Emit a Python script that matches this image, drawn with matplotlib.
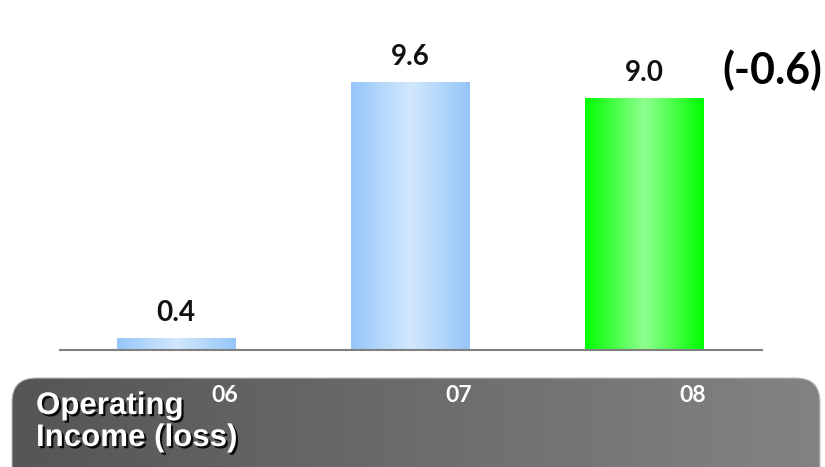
import matplotlib.pyplot as plt
import numpy as np
from matplotlib.colors import LinearSegmentedColormap
from matplotlib.patches import FancyBboxPatch
from matplotlib.transforms import ScaledTranslation
import matplotlib.patheffects as pe

years = ['06', '07', '08']
income = [0.4, 9.6, 9.0]
change_label = '(-0.6)'
row_title = ['Operating', 'Income (loss)']

blue_cmap = LinearSegmentedColormap.from_list(
    'blue_bar', ['#95c6f9', '#d2e8fd', '#95c6f9'])
green_cmap = LinearSegmentedColormap.from_list(
    'green_bar', ['#00ff00', '#90ff90', '#00ff00'])
bar_cmaps = [blue_cmap, blue_cmap, green_cmap]

W, H = 825, 467
fig = plt.figure(figsize=(W / 100, H / 100), dpi=100)

# background layer in pixel coordinates for the grey label strip
bg = fig.add_axes([0, 0, 1, 1], zorder=0)
bg.set_xlim(0, W)
bg.set_ylim(H, 0)
bg.axis('off')
strip = FancyBboxPatch((12, 378), 808, 130,
                       boxstyle='round,pad=0,rounding_size=24',
                       facecolor='none', edgecolor='#bdbdbd', linewidth=0.8)
bg.add_patch(strip)
grey = LinearSegmentedColormap.from_list('strip', ['#555555', '#838383'])
ramp = np.linspace(0, 1, 256).reshape(1, -1)
img = bg.imshow(ramp, cmap=grey, extent=(12, 820, 508, 378), aspect='auto')
img.set_clip_path(strip)
bg.set_xlim(0, W)
bg.set_ylim(H, 0)

shadow = [pe.withSimplePatchShadow(offset=(1.6, -1.6),
                                   shadow_rgbFace='black', alpha=0.9)]
for line, base in zip(row_title, [414, 446]):
    bg.text(36, base, line, color='white', fontsize=22.5, fontweight='bold',
            family='Liberation Sans', va='baseline', ha='left',
            path_effects=shadow)

# chart axes
ax = fig.add_axes([60 / W, 117 / H, 702 / W, 350 / H], zorder=1)
ax.patch.set_alpha(0)
x = np.arange(len(years))
width = 0.505
grad = np.linspace(0, 1, 256).reshape(1, -1)
for xi, v, cm in zip(x, income, bar_cmaps):
    ax.imshow(grad, cmap=cm, extent=(xi - width / 2, xi + width / 2, 0, v),
              aspect='auto', zorder=2)
    ax.annotate(f'{v:.1f}', (xi, v), xytext=(0, 9), textcoords='offset points',
                ha='center', va='bottom', fontsize=20, fontweight='bold',
                family='Lato', color='#111111')

ax.set_xlim(-0.496, 2.504)
ax.set_ylim(0, 12.54)
for s in ['top', 'right', 'left']:
    ax.spines[s].set_visible(False)
ax.spines['bottom'].set_color('#808080')
ax.spines['bottom'].set_linewidth(1.5)
ax.set_yticks([])
ax.set_xticks(x)
ax.set_xticklabels(years, fontsize=16.5, fontweight='bold', family='Lato',
                   color='white')
ax.tick_params(axis='x', length=0, pad=25)
shift = ScaledTranslation(0.49, 0, fig.dpi_scale_trans)
for lbl in ax.get_xticklabels():
    lbl.set_transform(lbl.get_transform() + shift)

fig.text(772 / W, 1 - 70 / H, change_label, ha='center', va='center',
         fontsize=31, fontweight='bold', family='Lato', color='black')

fig.savefig('out.png', dpi=100)
